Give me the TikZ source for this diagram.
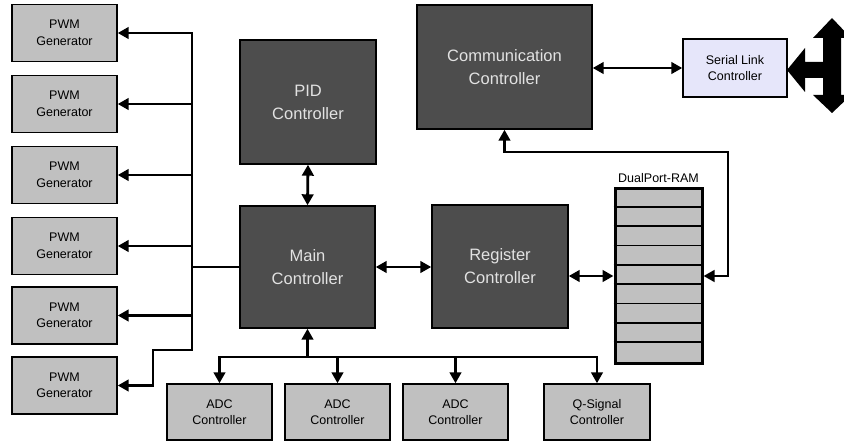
\documentclass[tikz,border=0pt]{standalone}
\usepackage{fontspec}
\setmainfont{Liberation Sans}
\usetikzlibrary{arrows.meta,calc}
\definecolor{darkbox}{HTML}{4D4D4D}
\definecolor{lightbox}{HTML}{C0C0C0}
\definecolor{lavbox}{HTML}{E6E6FA}
\definecolor{darktext}{HTML}{E2E2E2}
\begin{document}
\begin{tikzpicture}[x=1pt,y=-1pt,
  base/.style={draw=black,line width=1.4pt,inner sep=0pt,align=center},
  bigbox/.style={base,fill=darkbox,text=darktext,font=\fontsize{16.5}{23}\selectfont},
  smallbox/.style={base,fill=lightbox,font=\fontsize{12.5}{16.5}\selectfont,minimum width=105pt,minimum height=57pt},
  tipA/.tip={Triangle[length=11pt,width=11.5pt]},
  conn/.style={line width=2.8pt,line join=miter,-tipA},
  biconn/.style={line width=2.8pt,line join=miter,tipA-tipA},
  wire/.style={line width=2.8pt,line join=miter,line cap=rect}
]
\useasboundingbox (0,0) rectangle (844,441);
\clip (0,0) rectangle (844,441);

% PWM generators
\foreach \i/\y in {1/33,2/104,3/175,4/246,5/315.5,6/385.5}
  \node[smallbox] (pwm\i) at (64.5,\y) {PWM\\Generator};

% main blocks
\node[bigbox,minimum width=136pt,minimum height=124pt] (pid) at (308,102) {PID\\Controller};
\node[bigbox,minimum width=135pt,minimum height=122pt] (main) at (307.5,267) {Main\\Controller};
\node[bigbox,minimum width=136pt,minimum height=123pt] (reg) at (500,266.5) {Register\\Controller};
\node[bigbox,minimum width=175pt,minimum height=124pt] (comm) at (504.5,67) {Communication\\Controller};
\node[smallbox,fill=lavbox,minimum width=104pt,minimum height=58pt] (serial) at (735,68) {Serial Link\\Controller};

% ADC / Q-signal
\node[smallbox,minimum height=56pt] (adc1) at (219.5,412) {ADC\\Controller};
\node[smallbox,minimum height=56pt] (adc2) at (337.5,412) {ADC\\Controller};
\node[smallbox,minimum height=56pt] (adc3) at (455.5,412) {ADC\\Controller};
\node[smallbox,minimum height=56pt,minimum width=106pt] (qsig) at (597,412) {Q-Signal\\Controller};

% Dual port RAM
\node[draw=black,line width=3pt,fill=lightbox,inner sep=0pt,minimum width=87pt,minimum height=174pt] (ram) at (658.5,276) {};
\foreach \i in {1,...,8}
  \draw[line width=1.4pt] ($(ram.north west)+(0,\i*19.333)$) -- ($(ram.north east)+(0,\i*19.333)$);
\node[font=\fontsize{12.5}{15}\selectfont,anchor=base,inner sep=0pt] (ramlabel) at (658.5,182.5) {DualPort-RAM};

% PWM bus
\coordinate (bx) at (192,0);
\coordinate (j1) at (192,350);
\coordinate (j2) at (153,350);
\draw[wire] (pwm1.east -| bx) -- (j1) -- (j2) -- (j2 |- pwm6.east);
\foreach \i in {1,...,5}
  \draw[conn] (pwm\i.east -| bx) -- (pwm\i.east);
\draw[conn] (j2 |- pwm6.east) -- (pwm6.east);
\draw[wire] (main.west) -- (main.west -| bx);

% links between blocks
\draw[biconn] (pid.south) -- (main.north);
\draw[biconn] (main.east) -- (main.east -| reg.west);
\draw[biconn] (reg.east |- ram.west) -- (ram.west);
\draw[biconn] (comm.east |- serial.west) -- (serial.west);
\coordinate (r1) at (728,276);
\coordinate (r2) at (728,152);
\draw[biconn] (ram.east |- r1) -- (r1) -- (r2) -- (comm.south |- r2) -- (comm.south);

% bottom bus
\coordinate (bb) at (307,357);
\draw[wire] (adc1.north |- bb) -- (qsig.north |- bb);
\draw[conn] (main.south |- bb) -- (main.south);
\foreach \n in {adc1,adc2,adc3,qsig}
  \draw[conn] (\n.north |- bb) -- (\n.north);

% bidirectional external link arrow
\fill (787,70) -- (805,48) -- (805,62) -- (823,62) -- (823,38) -- (813,38) -- (832,18)
  -- (851,38) -- (841,38) -- (841,95) -- (851,95) -- (832,113) -- (813,95) -- (823,95)
  -- (823,78) -- (805,78) -- (805,92) -- cycle;
\end{tikzpicture}
\end{document}
